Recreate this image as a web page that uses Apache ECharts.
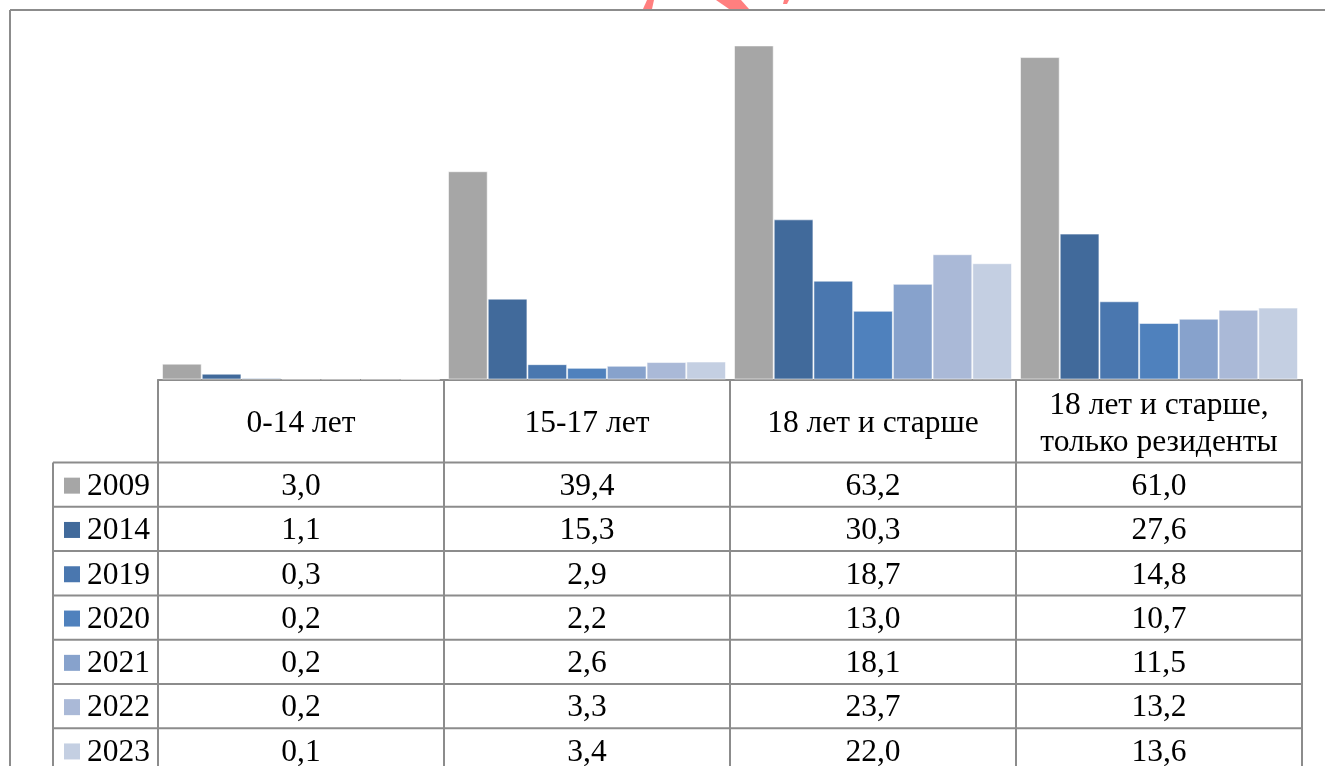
<!DOCTYPE html>
<html>
<head>
<meta charset="utf-8">
<style>
  html, body { margin: 0; padding: 0; background: #ffffff; }
  #chart { width: 1325px; height: 766px; }
</style>
<script src="https://cdn.jsdelivr.net/npm/echarts@6/dist/echarts.min.js"></script>
</head>
<body>
<div id="chart"></div>
<script>
// Age groups (table header / x categories)
const categories = ['0-14 лет', '15-17 лет', '18 лет и старше', '18 лет и старше,\nтолько резиденты'];

// Years shown as series
const years = ['2009', '2014', '2019', '2020', '2021', '2022', '2023'];

// Values per year, one per age group
const v2009 = [3.0, 39.4, 63.2, 61.0];
const v2014 = [1.1, 15.3, 30.3, 27.6];
const v2019 = [0.3, 2.9, 18.7, 14.8];
const v2020 = [0.2, 2.2, 13.0, 10.7];
const v2021 = [0.2, 2.6, 18.1, 11.5];
const v2022 = [0.2, 3.3, 23.7, 13.2];
const v2023 = [0.1, 3.4, 22.0, 13.6];

const valuesByYear = [v2009, v2014, v2019, v2020, v2021, v2022, v2023];
const colors = ['#a6a6a6', '#416a9b', '#4a77af', '#4f81bd', '#87a2cc', '#aab9d7', '#c4cfe2'];

const FONT = '"Liberation Serif", "Times New Roman", serif';
const FONT_SIZE = 31.5;
const LINE = '#8c8c8c';

const chart = echarts.init(document.getElementById('chart'), null, { renderer: 'canvas' });

chart.setOption({
  animation: false,
  backgroundColor: '#ffffff',
  grid: { left: 158, right: 23, top: 9.5, height: 370, containLabel: false },
  xAxis: {
    type: 'category',
    data: categories,
    axisLine: { show: true, lineStyle: { color: LINE, width: 2 } },
    axisTick: { show: false },
    axisLabel: { show: false },
    splitLine: { show: false }
  },
  yAxis: {
    type: 'value',
    min: 0,
    max: 70,
    show: false
  },
  series: years.map((y, i) => ({
    name: y,
    type: 'bar',
    data: valuesByYear[i],
    barGap: '0%',
    barCategoryGap: '2.8%',
    itemStyle: {
      color: colors[i],
      borderColor: 'rgba(255,255,255,0.55)',
      borderWidth: 1
    }
  }))
});

// Data table under the plot, laid out from the category axis
function buildTable() {
  const centers = categories.map((c, i) => chart.convertToPixel({ xAxisIndex: 0 }, i));
  const half = (centers[1] - centers[0]) / 2;
  const bounds = [centers[0] - half].concat(centers.map(c => c + half));
  const axisY = chart.convertToPixel({ yAxisIndex: 0 }, 0);
  const headerH = 83;
  const rowH = 44.3;
  const legendLeft = 53;
  const tableTop = axisY + headerH;
  const bottom = 800;

  const g = [];

  // red mark at the top edge
  const red = '#ff7f7f';
  g.push({ type: 'polygon', z: 1, shape: { points: [[647, 0], [654, 0], [652, 9], [643, 9]] }, style: { fill: red } });
  g.push({ type: 'polygon', z: 1, shape: { points: [[716, 0], [741, 0], [749, 9], [729, 9]] }, style: { fill: red } });
  g.push({ type: 'polygon', z: 1, shape: { points: [[784, 0], [789, 0], [787, 4], [783, 4]] }, style: { fill: red } });

  // outer chart frame
  g.push({ type: 'line', z: 5, shape: { x1: 10, y1: 10, x2: 1330, y2: 10 }, style: { stroke: LINE, lineWidth: 2 } });
  g.push({ type: 'line', z: 5, shape: { x1: 10, y1: 10, x2: 10, y2: 780 }, style: { stroke: LINE, lineWidth: 2 } });

  // vertical table lines
  bounds.forEach(x => {
    g.push({ type: 'line', z: 5, shape: { x1: x, y1: axisY, x2: x, y2: bottom }, style: { stroke: LINE, lineWidth: 2 } });
  });
  g.push({ type: 'line', z: 5, shape: { x1: legendLeft, y1: tableTop, x2: legendLeft, y2: bottom }, style: { stroke: LINE, lineWidth: 2 } });

  // horizontal table lines
  for (let r = 0; r <= years.length; r++) {
    const y = tableTop + r * rowH;
    g.push({ type: 'line', z: 5, shape: { x1: legendLeft, y1: y, x2: bounds[bounds.length - 1], y2: y }, style: { stroke: LINE, lineWidth: 2 } });
  }

  // header cells
  categories.forEach((c, i) => {
    g.push({
      type: 'text', z: 6,
      x: centers[i], y: axisY + headerH / 2 + 3,
      style: {
        text: c, fill: '#000', font: FONT_SIZE + 'px ' + FONT,
        align: 'center', verticalAlign: 'middle', lineHeight: 37
      }
    });
  });

  // rows: legend key + year + values
  years.forEach((y, r) => {
    const cy = tableTop + r * rowH + rowH / 2;
    g.push({ type: 'rect', z: 6, shape: { x: 64, y: cy - 7, width: 16, height: 16 }, style: { fill: colors[r] } });
    g.push({
      type: 'text', z: 6, x: 87, y: cy + 2,
      style: { text: y, fill: '#000', font: FONT_SIZE + 'px ' + FONT, align: 'left', verticalAlign: 'middle' }
    });
    valuesByYear[r].forEach((v, i) => {
      g.push({
        type: 'text', z: 6, x: centers[i], y: cy + 2,
        style: {
          text: v.toFixed(1).replace('.', ','), fill: '#000',
          font: FONT_SIZE + 'px ' + FONT, align: 'center', verticalAlign: 'middle'
        }
      });
    });
  });

  chart.setOption({ graphic: { elements: g } });
}

buildTable();
</script>
</body>
</html>
